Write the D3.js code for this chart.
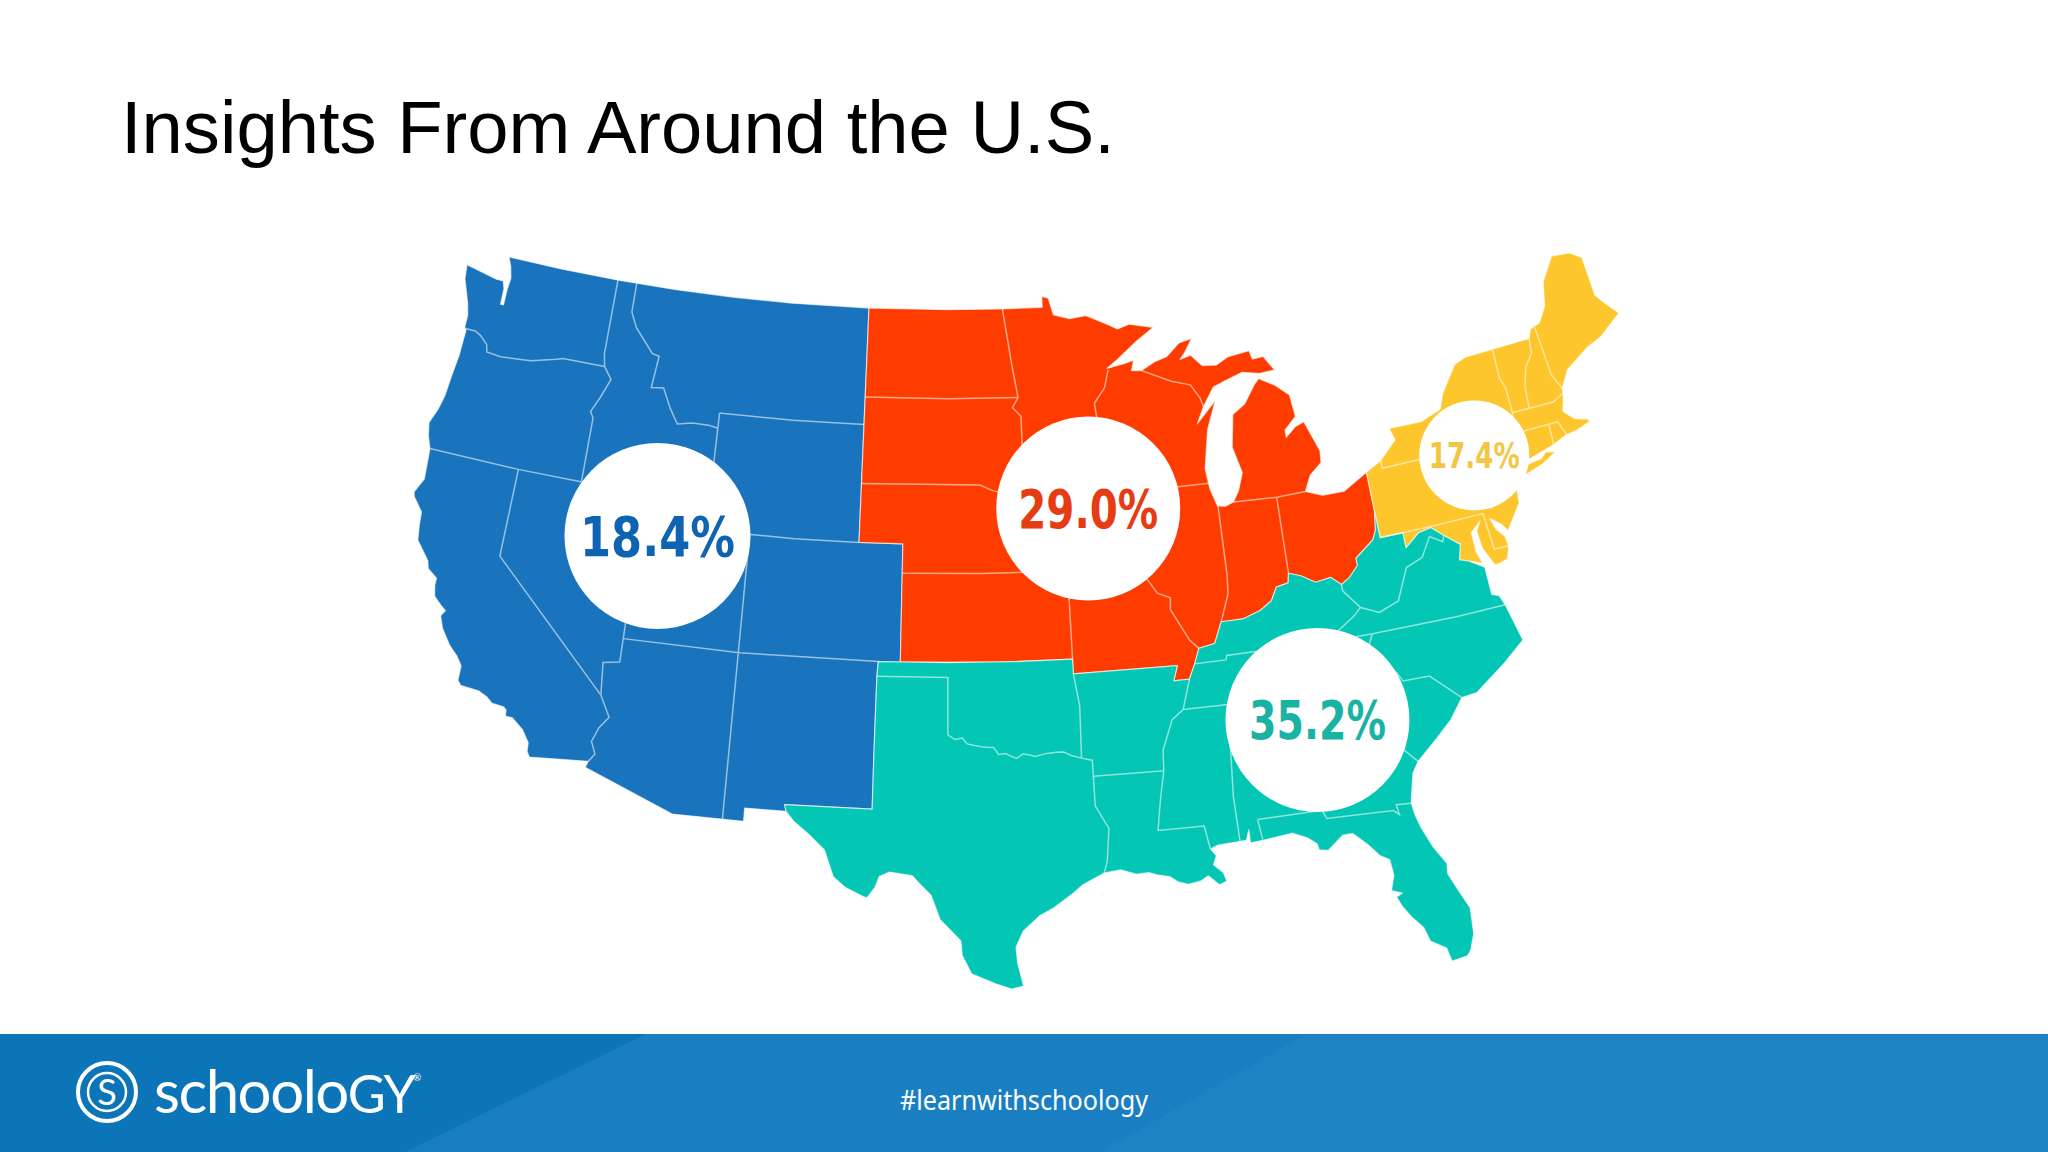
<!DOCTYPE html>
<html>
<head>
<meta charset="utf-8">
<script src="https://cdn.jsdelivr.net/npm/d3@7"></script>
<style>
  html, body { margin: 0; background: #fff; }
  svg { display: block; }
</style>
</head>
<body>
<div class="chart"></div>
<script>
const regionNames = ["West", "Midwest", "Northeast", "South"]
const regionShares = [18.4, 29.0, 17.4, 35.2]
const bubbleCenters = [[-113.2, 40.6], [-93.5, 42.05], [-75.5, 41.7], [-84.6, 34.05]]

// outlines as [lon, lat], clockwise
const westOutline = [[-124.73,48.38],[-123.1,48.15],[-122.75,48.15],[-122.62,47.9],[-122.6,47.35],[-122.45,47.35],[-122.45,47.9],[-122.4,48.3],[-122.55,48.7],[-122.75,49],[-120,49],[-117,49],[-114,49],[-111,49],[-108,49],[-104.05,49],[-104.05,47],[-104.05,45],[-104.05,43],[-104.05,41],[-102.05,41],[-102.05,39],[-102.05,37],[-103,37],[-103.04,36.5],[-103.06,34],[-103.06,32],[-106.6,32],[-106.53,31.78],[-108.2,31.78],[-108.2,31.33],[-111.07,31.33],[-114.81,32.5],[-114.72,32.72],[-117.12,32.53],[-117.25,32.7],[-117.27,33],[-117.6,33.4],[-118.1,33.73],[-118.4,33.74],[-118.42,33.95],[-118.55,34.04],[-119.05,34.08],[-119.3,34.25],[-119.7,34.4],[-120.47,34.45],[-120.63,34.6],[-120.63,35.1],[-120.9,35.4],[-121.3,35.7],[-121.75,36.2],[-121.95,36.6],[-121.8,36.8],[-122.05,36.95],[-122.4,37.2],[-122.5,37.55],[-122.5,37.8],[-122.95,38.05],[-123.05,38.3],[-123.7,38.9],[-123.8,39.4],[-123.85,39.85],[-124.35,40.3],[-124.4,40.45],[-124.1,40.95],[-124.15,41.5],[-124.2,42],[-124.42,42.4],[-124.55,42.85],[-124.3,43.35],[-124.15,43.85],[-124.07,44.6],[-123.97,45.3],[-123.95,46.2],[-124.05,46.3],[-124.05,46.7],[-124.2,47.1],[-124.65,47.9]]
const midwestOutline = [[-104.05,49],[-100,49],[-97.2,49],[-95.15,49],[-95.15,49.38],[-94.82,49.3],[-94.6,48.72],[-93.8,48.55],[-92.95,48.62],[-92,48.3],[-91.4,48.07],[-90.8,48.2],[-89.6,48],[-90.5,47.6],[-91.5,47.05],[-92.1,46.75],[-91.2,46.87],[-90.75,46.95],[-90.9,46.6],[-90.4,46.57],[-89.7,46.83],[-89.1,46.95],[-88.4,47.37],[-87.75,47.47],[-88.2,47],[-88.45,46.8],[-87.9,46.9],[-87.4,46.5],[-86.7,46.45],[-86.1,46.67],[-85,46.77],[-84.9,46.47],[-84.35,46.5],[-84.1,46.2],[-83.9,45.98],[-84.7,45.95],[-85.5,46.08],[-86.5,45.85],[-87,45.72],[-87.6,45.1],[-88,44.55],[-87,45.25],[-87.55,44.3],[-87.9,43],[-87.8,42.3],[-87.55,41.7],[-87.2,41.65],[-86.8,41.76],[-86.5,42.1],[-86.2,42.7],[-86.5,43.6],[-86.25,44.7],[-85.6,45],[-85,45.6],[-84.75,45.78],[-84,45.45],[-83.4,45.05],[-83.3,44.3],[-83.9,43.9],[-83.9,43.65],[-83.4,43.95],[-82.95,44.07],[-82.45,43],[-82.5,42.6],[-83.1,42.25],[-83.45,41.73],[-82.7,41.5],[-81.7,41.5],[-80.52,41.98],[-80.52,40.64],[-80.65,40],[-80.85,39.7],[-81.75,39.2],[-81.75,38.95],[-82.2,38.6],[-82.6,38.42],[-83,38.72],[-83.7,38.65],[-84.3,38.95],[-84.82,39.1],[-84.9,38.78],[-85.45,38.7],[-85.75,38.27],[-86.3,38],[-87.1,37.8],[-88.05,37.8],[-88.45,37.1],[-89.15,37],[-89.4,36.5],[-89.7,36],[-90.37,36],[-90.15,36.5],[-94.62,36.5],[-94.62,37],[-98,37],[-102.05,37],[-102.05,39],[-102.05,41],[-104.05,41],[-104.05,43],[-104.05,45],[-104.05,47]]
const northeastOutline = [[-80.52,41.98],[-79.76,42.27],[-78.9,42.85],[-79.05,43.27],[-77.5,43.25],[-76.5,43.5],[-76.2,44],[-75.3,44.85],[-74.7,45],[-71.5,45],[-71.3,45.3],[-70.8,45.4],[-70.3,45.9],[-70,46.7],[-69.2,47.45],[-68.3,47.35],[-67.8,47.07],[-67.8,45.7],[-67.45,45.3],[-67,44.85],[-68.2,44.3],[-69,44.1],[-70.2,43.6],[-70.7,43.05],[-70.8,42.7],[-71,42.3],[-70.6,41.95],[-70.05,41.8],[-70.2,42.08],[-69.95,41.7],[-70.65,41.55],[-71.2,41.5],[-71.4,41.45],[-71.85,41.32],[-73.65,40.98],[-73.8,40.8],[-74,40.7],[-74.25,40.5],[-74,40.4],[-74.1,39.75],[-74.9,38.95],[-75.1,39.2],[-75.55,39.5],[-75.4,39.1],[-75.1,38.8],[-75.05,38.45],[-75.25,38.03],[-75.65,37.95],[-75.85,37.95],[-76.2,38.6],[-76.25,39.2],[-76,39.5],[-76.5,39.2],[-76.5,38.5],[-76.35,38.1],[-76.95,38.3],[-77.3,38.4],[-77.1,38.9],[-77.72,39.32],[-78.2,39.68],[-78.8,39.6],[-79.48,39.2],[-79.48,39.72],[-80.52,39.72],[-80.52,40.64]]
const longIsland = [[-74,40.6],[-73.7,40.88],[-72.6,40.98],[-72.3,41.15],[-71.87,41.07],[-72.6,40.8],[-73.6,40.58]]
const southOutline = [[-103,37],[-100,37],[-97,37],[-94.62,37],[-94.62,36.5],[-90.15,36.5],[-90.37,36],[-89.7,36],[-89.4,36.5],[-89.15,37],[-88.45,37.1],[-88.05,37.8],[-87.1,37.8],[-86.3,38],[-85.75,38.27],[-85.45,38.7],[-84.9,38.78],[-84.82,39.1],[-84.3,38.95],[-83.7,38.65],[-83,38.72],[-82.6,38.42],[-82.2,38.6],[-81.75,38.95],[-81.75,39.2],[-80.85,39.7],[-80.65,40],[-80.52,40.64],[-80.52,39.72],[-79.48,39.72],[-79.48,39.2],[-78.8,39.6],[-78.2,39.68],[-77.72,39.32],[-77.1,38.9],[-77.3,38.4],[-76.95,38.3],[-76.3,37.95],[-76.3,37.5],[-76.3,37],[-76,36.9],[-75.85,36.55],[-75.5,35.25],[-76.5,34.65],[-77.9,33.9],[-78.55,33.85],[-79.2,33.2],[-79.9,32.7],[-80.85,32.05],[-81.15,31.7],[-81.4,30.9],[-81.45,30.7],[-81.4,30.3],[-81.25,29.8],[-80.95,29.1],[-80.55,28.45],[-80.6,28.1],[-80.3,27.4],[-80.03,26.8],[-80.1,25.9],[-80.35,25.35],[-80.5,25.2],[-81.1,25.13],[-81.2,25.6],[-81.75,25.95],[-81.9,26.45],[-82.25,26.85],[-82.55,27.3],[-82.7,27.65],[-82.45,27.75],[-82.85,27.9],[-82.65,28.4],[-82.7,28.95],[-83.05,29.15],[-83.45,29.6],[-83.95,30.05],[-84.35,30.05],[-85,29.62],[-85.35,29.68],[-85.4,29.9],[-85.75,30.15],[-86.3,30.38],[-87.5,30.28],[-88,30.25],[-88,30.7],[-88.15,30.35],[-89.3,30.3],[-89.6,30.2],[-89.4,29.95],[-89.55,29.65],[-89.2,29.35],[-89.1,29.05],[-89.4,28.95],[-89.8,29.3],[-90.1,29.15],[-90.6,29.08],[-91,29.2],[-91.3,29.4],[-91.8,29.5],[-92.1,29.6],[-92.6,29.58],[-93.2,29.77],[-93.85,29.7],[-94.7,29.35],[-95.15,29.05],[-95.9,28.6],[-96.45,28.35],[-97.1,27.85],[-97.4,27.3],[-97.35,26.75],[-97.15,25.96],[-97.6,25.87],[-98.2,26.06],[-99.1,26.42],[-99.45,27.05],[-99.5,27.55],[-100.3,28.28],[-100.65,29.1],[-101.05,29.45],[-101.4,29.77],[-102.3,29.88],[-102.7,29.72],[-102.85,29.35],[-103.15,28.98],[-103.3,29.02],[-104,29.3],[-104.5,29.65],[-104.9,30.55],[-105.6,31.08],[-106.2,31.47],[-106.53,31.78],[-106.6,32],[-103.06,32],[-103.06,34],[-103.04,36.5]]

const stateLines = [
  [[-124,46.25],[-123.5,46.25],[-123.2,46.15],[-122.8,45.9],[-122.7,45.65],[-122,45.6],[-121.2,45.65],[-120.5,45.7],[-119.3,45.93],[-119,46],[-116.92,46]],
  [[-117.03,49],[-117.04,46.42],[-116.92,46],[-116.5,45.6],[-116.85,44.95],[-117.2,44.4],[-117.03,44.2],[-117.03,42]],
  [[-124.2,42],[-120,42],[-117,42],[-114,42],[-111.05,42]],
  [[-120,42],[-120,39],[-114.63,35],[-114.75,36.1],[-114.05,36.2],[-114.05,37],[-114.05,42]],
  [[-114.63,35],[-114.15,34.3],[-114.5,33.9],[-114.72,33.4],[-114.5,33],[-114.72,32.72]],
  [[-116.05,49],[-116.05,48],[-115.7,47.5],[-114.7,46.7],[-114.35,46.65],[-114.5,45.55],[-113.9,45.6],[-113.45,44.95],[-113,44.45],[-112.3,44.55],[-111.5,44.55],[-111.05,44.48]],
  [[-111.05,45],[-111.05,41]],
  [[-111.05,45],[-107.5,45],[-104.05,45]],
  [[-111.05,41],[-107,41],[-104.05,41]],
  [[-109.05,41],[-109.05,37],[-109.05,31.33]],
  [[-114.05,37],[-109,37],[-103,37]],
  [[-104.05,45.94],[-100,45.94],[-96.56,45.94]],
  [[-104.05,43],[-98.5,43],[-97.9,42.8],[-96.45,42.5]],
  [[-102.05,40],[-98.5,40],[-95.3,40]],
  [[-97.2,49],[-96.8,47],[-96.56,45.94],[-96.85,45.6],[-96.45,45.3],[-96.45,43.5],[-96.45,42.5],[-96.1,41.7],[-95.85,41],[-95.3,40],[-94.62,39.1],[-94.62,37]],
  [[-96.45,43.5],[-94,43.5],[-91.22,43.5]],
  [[-92.05,46.7],[-92.3,46.1],[-92.85,45.6],[-92.75,44.75],[-91.22,43.5],[-91.1,42.7],[-90.64,42.5],[-90.15,41.8],[-91.1,41.2],[-91.4,40.4],[-91.5,40],[-90.7,39],[-90.15,38.8],[-90.2,38.4],[-89.5,37.3],[-89.15,37]],
  [[-95.77,40.58],[-91.7,40.6],[-91.4,40.4]],
  [[-90.64,42.5],[-87.8,42.5]],
  [[-90.4,46.57],[-89,46.1],[-88.1,45.9],[-87.7,45.4],[-87.6,45.1]],
  [[-87.53,41.7],[-87.53,39.35],[-87.6,38.7],[-88.05,37.8]],
  [[-84.8,41.7],[-84.82,39.1]],
  [[-86.8,41.76],[-84.8,41.7],[-83.45,41.73]],
  [[-103.04,36.5],[-100,36.5],[-100,34.56],[-99.7,34.4],[-99.4,34.45],[-99.2,34.25],[-98.95,34.2],[-98.6,34.15],[-98.35,34.13],[-98.1,34.12],[-97.9,33.88],[-97.6,33.9],[-97.45,33.83],[-97.15,33.73],[-96.9,33.87],[-96.6,33.83],[-96.4,33.77],[-95.9,33.86],[-95.5,33.88],[-95.2,33.88],[-94.9,33.75],[-94.48,33.64],[-94.04,33.55],[-94.04,33],[-94.04,32],[-93.55,31.2],[-93.7,30.1],[-93.85,29.7]],
  [[-94.62,36.5],[-94.43,35.4],[-94.48,33.64]],
  [[-94.04,33],[-91.15,33],[-91.4,32],[-91.6,31],[-89.75,31],[-89.6,30.2]],
  [[-91.15,33],[-91.1,33.7],[-90.6,34.7],[-90.1,35],[-89.7,36]],
  [[-90.1,35],[-88.2,35],[-85.6,35],[-84.3,35],[-83.1,35]],
  [[-88.2,35],[-88.45,31.9],[-88.4,30.3]],
  [[-85.6,35],[-85.15,32.85],[-85,32.3],[-85,31],[-84.87,30.7],[-82.2,30.57],[-82,30.4],[-82.05,30.75],[-81.45,30.7]],
  [[-87.6,31],[-85,31]],
  [[-87.6,31],[-87.5,30.3]],
  [[-83.1,35],[-83.35,34.7],[-82.8,34.3],[-81.9,33.4],[-81.4,32.6],[-80.85,32.05]],
  [[-83.1,35],[-82.3,35.2],[-81,35.15],[-80.8,34.82],[-79.67,34.8],[-78.55,33.85]],
  [[-84.3,35],[-84,35.4],[-83.1,35.75],[-82,36.1],[-81.68,36.59]],
  [[-89.4,36.5],[-88.05,36.5],[-88,36.65],[-83.68,36.6],[-81.68,36.59],[-78,36.55],[-75.85,36.55]],
  [[-83.68,36.6],[-82.3,37.3],[-81.97,37.54],[-82.6,38.2],[-82.6,38.42]],
  [[-81.97,37.54],[-81.2,37.25],[-80.3,37.5],[-79.65,38.55],[-78.87,38.77],[-78.35,39.4],[-77.83,39.13],[-77.72,39.32]],
  [[-79.76,42.27],[-79.76,42],[-75.35,42],[-74.7,41.36],[-73.9,41]],
  [[-74.7,41.36],[-75.1,40.9],[-75.2,40.65],[-74.75,40.2],[-75.4,39.8]],
  [[-80.52,39.72],[-78,39.72],[-75.79,39.72],[-75.7,38.46],[-75.05,38.45]],
  [[-73.35,45],[-73.4,44],[-73.25,43.6],[-73.27,42.75],[-73.5,42.05],[-73.5,41.3],[-73.65,41]],
  [[-71.5,45],[-71.6,44.5],[-72.05,44.1],[-72.35,43.5],[-72.46,42.73]],
  [[-71.08,45.3],[-71,43.6],[-70.7,43.05]],
  [[-73.27,42.75],[-71.3,42.7],[-70.8,42.87]],
  [[-73.5,42.05],[-71.8,42.02],[-71.38,42.02],[-71.15,41.5]],
  [[-71.8,42.02],[-71.85,41.32]]
]

const outlines = [[westOutline], [midwestOutline], [northeastOutline, longIsland], [southOutline]]

const width = 2048
const height = 1152
const fills = ["#1a74bd", "#fe3c00", "#fdc62c", "#04c6b5"]
const inks = ["#0f64b2", "#e63c14", "#f3c544", "#19b3a3"]
const bubbleR = [93, 92, 55, 92]
const labelSize = [55, 54, 36, 54]
const labelWidth = [155, 140, 91, 137]

const svg = d3.select(".chart").append("svg")
    .attr("width", width)
    .attr("height", height)

svg.append("rect")
    .attr("width", width)
    .attr("height", height)
    .attr("fill", "white")

svg.append("text")
    .attr("x", 121)
    .attr("y", 153)
    .attr("font-family", "Liberation Sans")
    .attr("font-size", 74.2)
    .attr("fill", "#000")
    .text("Insights From Around the U.S.")

const regions = regionNames.map((name, i) => ({
    type: "Feature",
    properties: {name, share: regionShares[i]},
    geometry: {type: "MultiPolygon", coordinates: outlines[i].map(r => [r.concat([r[0]])])}
}))

const projection = d3.geoConicEqualArea()
    .parallels([29.5, 45.5])
    .rotate([100, 0])
    .fitExtent([[410, 253], [1623, 989]], {type: "FeatureCollection", features: regions})

const path = d3.geoPath(projection)
const color = d3.scaleOrdinal(regionNames, fills)

svg.append("g")
    .selectAll("path")
    .data(regions)
    .join("path")
    .attr("d", path)
    .attr("fill", d => color(d.properties.name))
    .attr("stroke", "white")
    .attr("stroke-opacity", 0.6)
    .attr("stroke-width", 1.2)
    .attr("stroke-linejoin", "round")

svg.append("path")
    .datum({type: "MultiLineString", coordinates: stateLines})
    .attr("d", path)
    .attr("fill", "none")
    .attr("stroke", "white")
    .attr("stroke-opacity", 0.55)
    .attr("stroke-width", 1.5)

const bubbles = svg.append("g")
    .selectAll("g")
    .data(regions)
    .join("g")
    .attr("transform", (d, i) => `translate(${projection(bubbleCenters[i])})`)

bubbles.append("circle")
    .attr("r", (d, i) => bubbleR[i])
    .attr("fill", "white")

bubbles.append("text")
    .attr("text-anchor", "middle")
    .attr("dy", "0.36em")
    .attr("font-family", "DejaVu Sans")
    .attr("font-weight", "bold")
    .attr("font-size", (d, i) => labelSize[i])
    .attr("textLength", (d, i) => labelWidth[i])
    .attr("lengthAdjust", "spacingAndGlyphs")
    .attr("fill", (d, i) => inks[i])
    .text(d => d3.format(".1f")(d.properties.share) + "%")

// footer band
const footer = svg.append("g")
footer.append("rect")
    .attr("y", 1034)
    .attr("width", width)
    .attr("height", 118)
    .attr("fill", "#1a7fc2")
footer.append("path")
    .attr("d", "M0,1034H646L405,1152H0Z")
    .attr("fill", "#0b75b8")
footer.append("path")
    .attr("d", "M1306,1034H2048V1152H1100Z")
    .attr("fill", "#1e83c3")

footer.append("circle")
    .attr("cx", 107).attr("cy", 1092).attr("r", 29)
    .attr("fill", "none").attr("stroke", "white").attr("stroke-width", 4)
footer.append("circle")
    .attr("cx", 107).attr("cy", 1092).attr("r", 19)
    .attr("fill", "none").attr("stroke", "white").attr("stroke-width", 2.5)
footer.append("text")
    .attr("x", 107).attr("y", 1105)
    .attr("text-anchor", "middle")
    .attr("font-family", "Lato")
    .attr("font-size", 36)
    .attr("fill", "white")
    .text("S")

const logo = footer.append("text")
    .attr("x", 154).attr("y", 1113)
    .attr("font-family", "Lato")
    .attr("font-size", 60)
    .attr("letter-spacing", -1.5)
    .attr("fill", "white")
logo.append("tspan").text("schoolo")
logo.append("tspan").style("text-transform", "uppercase").attr("font-size", 52).text("gy")

footer.append("text")
    .attr("x", 413).attr("y", 1081)
    .attr("font-family", "Lato")
    .attr("font-size", 10)
    .attr("fill", "white")
    .text("®")

footer.append("text")
    .attr("x", 1024).attr("y", 1110)
    .attr("text-anchor", "middle")
    .attr("font-family", "Noto Sans")
    .attr("font-size", 28)
    .attr("textLength", 248)
    .attr("lengthAdjust", "spacingAndGlyphs")
    .attr("fill", "white")
    .text("#learnwithschoology")
</script>
</body>
</html>
